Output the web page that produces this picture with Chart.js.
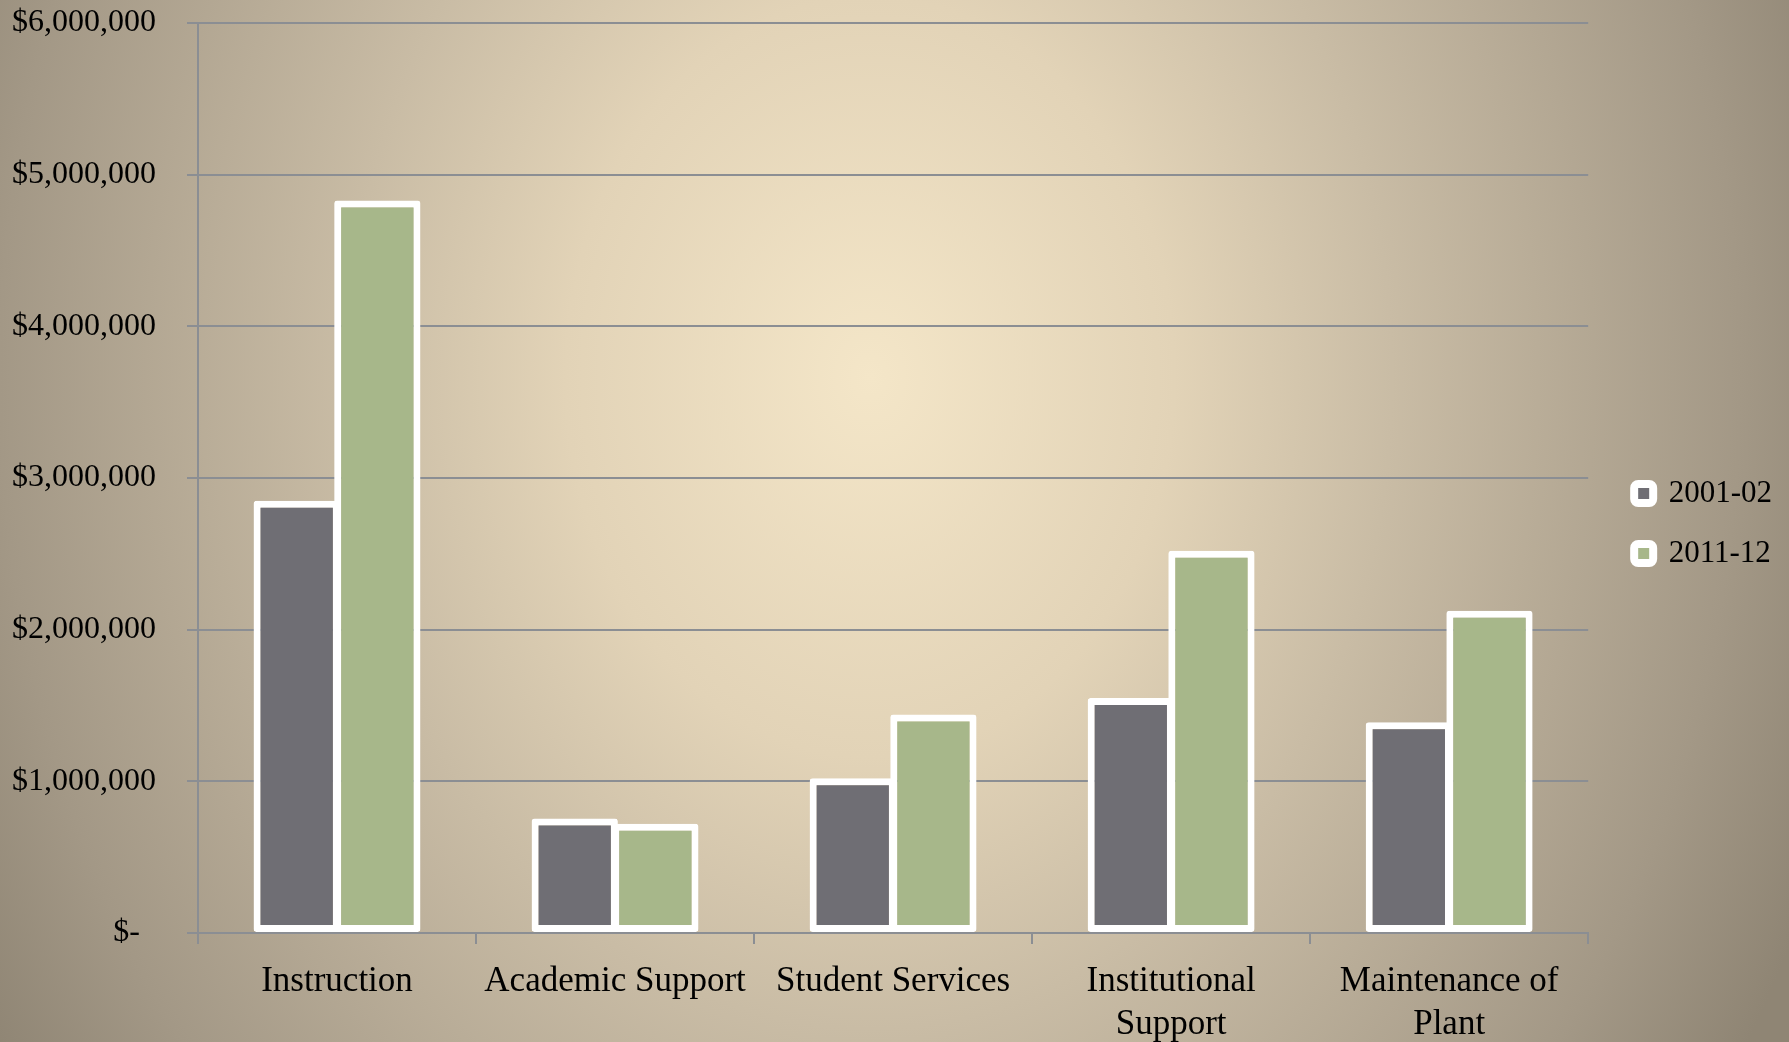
<!DOCTYPE html>
<html>
<head>
<meta charset="utf-8">
<script src="https://cdn.jsdelivr.net/npm/chart.js@4"></script>
<style>
  html, body { margin: 0; padding: 0; }
  body {
    width: 1789px; height: 1042px; overflow: hidden;
    background: radial-gradient(870px 1086px at 870px 377px, #f4e6c8 0%, #e2d3b7 35%, #c9bca5 60%, #a39886 100%, #8f8574 118%);
  }
  canvas { display: block; }
</style>
</head>
<body>
<canvas id="grafico" width="1789" height="1042"></canvas>
<script>
const categorias = ['Instruction', 'Academic Support', 'Student Services', ['Institutional', 'Support'], ['Maintenance of', 'Plant']];
const valores2001 = [2850000, 755000, 1020000, 1550000, 1390000];
const valores2011 = [4830000, 720000, 1440000, 2520000, 2125000];
const etiquetasY = ['$-  ', '$1,000,000', '$2,000,000', '$3,000,000', '$4,000,000', '$5,000,000', '$6,000,000'];

const colorGris = '#6f6e74';
const colorVerde = '#a7b78a';
const colorGrilla = '#8b8e93';
const fuente = "'Liberation Serif', 'Times New Roman', serif";

new Chart(document.getElementById('grafico').getContext('2d'), {
  type: 'bar',
  data: {
    labels: categorias,
    datasets: [{
      label: '2001-02',
      data: valores2001,
      backgroundColor: colorGris,
      borderColor: '#ffffff',
      borderWidth: 7,
      borderRadius: 3,
      borderSkipped: false,
      categoryPercentage: 0.58,
      barPercentage: 1.07
    }, {
      label: '2011-12',
      data: valores2011,
      backgroundColor: colorVerde,
      borderColor: '#ffffff',
      borderWidth: 7,
      borderRadius: 3,
      borderSkipped: false,
      categoryPercentage: 0.58,
      barPercentage: 1.07
    }]
  },
  options: {
    responsive: false,
    animation: false,
    devicePixelRatio: 1,
    layout: { padding: { top: 5, right: 7, bottom: 0, left: 0 } },
    plugins: {
      tooltip: { enabled: false },
      legend: {
        position: 'right',
        labels: {
          boxWidth: 19,
          boxHeight: 19,
          padding: 29,
          color: '#000',
          font: { family: fuente, size: 31 },
          useBorderRadius: true,
          borderRadius: 4,
          generateLabels: chart => chart.data.datasets.map((ds, i) => ({
            text: ds.label,
            fillStyle: ds.backgroundColor,
            strokeStyle: '#ffffff',
            lineWidth: 8,
            borderRadius: 4,
            datasetIndex: i,
            hidden: false
          }))
        }
      }
    },
    scales: {
      x: {
        grid: { drawOnChartArea: false, drawTicks: true, tickLength: 11, color: colorGrilla, lineWidth: 2 },
        border: { color: colorGrilla, width: 2 },
        ticks: {
          color: '#000',
          font: { family: fuente, size: 35, lineHeight: 1.23 },
          padding: 16,
          maxRotation: 0,
          autoSkip: false
        },
        afterFit: s => { s.height = 109; }
      },
      y: {
        min: 0,
        max: 6000000,
        grid: { color: colorGrilla, lineWidth: 2, tickLength: 11 },
        border: { color: colorGrilla, width: 2 },
        ticks: {
          stepSize: 1000000,
          color: '#000',
          padding: 31,
          font: { family: fuente, size: 32 },
          callback: (v, i) => etiquetasY[i]
        },
        afterFit: s => { s.width = 198; s.paddingTop = 23; s.paddingBottom = 0; }
      },
      hueco: {
        position: 'right',
        grid: { display: false },
        border: { display: false },
        ticks: { display: false },
        afterFit: s => { s.width = 17; }
      }
    }
  }
});
</script>
</body>
</html>
